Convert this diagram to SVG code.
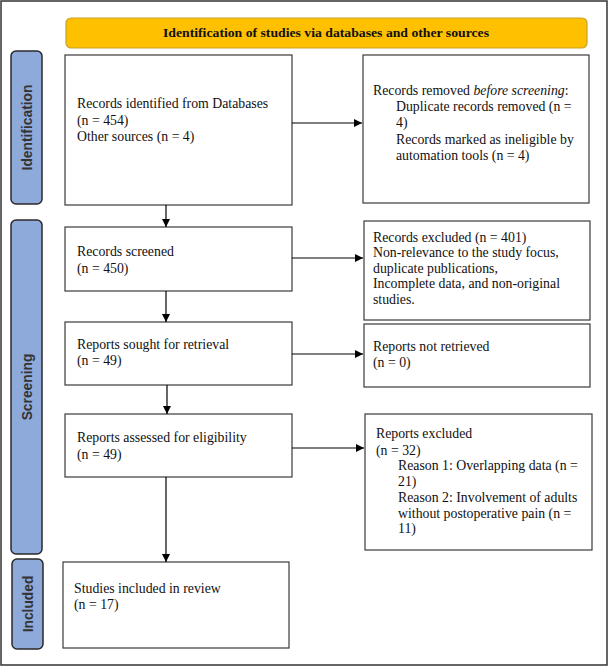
<svg xmlns="http://www.w3.org/2000/svg" width="611" height="666" viewBox="0 0 611 666">
<defs>
<marker id="ah" viewBox="0 0 10 10" refX="10" refY="5" markerWidth="8" markerHeight="8" markerUnits="userSpaceOnUse" orient="auto">
<path d="M0,0 L10,5 L0,10 z" fill="#000"/>
</marker>
<style>
.box{fill:#fff;stroke:#3a3a3a;stroke-width:1.2}
.t{font-family:"Liberation Serif","Times New Roman",serif;font-size:13.8px;fill:#111}
.side{fill:#8eaadb;stroke:#2a2a2a;stroke-width:1.5}
.st{font-family:"Liberation Sans",Arial,sans-serif;font-weight:bold;font-size:13.8px;fill:#333;text-anchor:middle}
.c{stroke:#000;stroke-width:1.2;fill:none;marker-end:url(#ah)}
</style>
</defs>
<rect x="0" y="0" width="611" height="666" fill="#fff"/>
<rect x="1" y="1" width="606" height="664" fill="none" stroke="#333" stroke-width="1.5"/>
<g id="banner">
<rect x="66" y="18" width="521" height="30" rx="5" fill="#ffc000" stroke="#c9a227" stroke-width="1.2"/>
<text x="326" y="36.5" text-anchor="middle" font-family="'Liberation Serif','Times New Roman',serif" font-weight="bold" font-size="12" fill="#111" textLength="326" lengthAdjust="spacingAndGlyphs">Identification of studies via databases and other sources</text>
</g>
<g id="label-identification">
<rect class="side" x="11" y="51" width="31" height="153" rx="5"/>
<text class="st" transform="translate(31.8,127.5) rotate(-90)">Identification</text>
</g>
<g id="label-screening">
<rect class="side" x="11" y="220" width="31" height="334" rx="5"/>
<text class="st" transform="translate(31.8,387) rotate(-90)">Screening</text>
</g>
<g id="label-included">
<rect class="side" x="12" y="559" width="31" height="90" rx="5"/>
<text class="st" transform="translate(32.8,604) rotate(-90)">Included</text>
</g>
<g id="n1">
<rect class="box" x="65" y="55" width="227" height="150"/>
<text class="t" x="77" y="108">Records identified from Databases</text>
<text class="t" x="77" y="124.5">(n = 454)</text>
<text class="t" x="77" y="141">Other sources (n = 4)</text>
</g>
<g id="n1r">
<rect class="box" x="363" y="55" width="226" height="148"/>
<text class="t" x="373" y="95">Records removed <tspan font-style="italic">before screening</tspan>:</text>
<text class="t" x="396" y="111">Duplicate records removed (n =</text>
<text class="t" x="396" y="127">4)</text>
<text class="t" x="396" y="143.5">Records marked as ineligible by</text>
<text class="t" x="396" y="160">automation tools (n = 4)</text>
</g>
<g id="n2">
<rect class="box" x="65" y="227" width="227" height="64"/>
<text class="t" x="77" y="256">Records screened</text>
<text class="t" x="77" y="273">(n = 450)</text>
</g>
<g id="n2r">
<rect class="box" x="364" y="221" width="226" height="99"/>
<text class="t" x="373" y="241.5">Records excluded (n = 401)</text>
<text class="t" x="373" y="257">Non-relevance to the study focus,</text>
<text class="t" x="373" y="272.5">duplicate publications,</text>
<text class="t" x="373" y="288">Incomplete data, and non-original</text>
<text class="t" x="373" y="303.5">studies.</text>
</g>
<g id="n3">
<rect class="box" x="65" y="322" width="227" height="63"/>
<text class="t" x="77" y="348.5">Reports sought for retrieval</text>
<text class="t" x="77" y="365">(n = 49)</text>
</g>
<g id="n3r">
<rect class="box" x="364" y="324" width="226" height="63"/>
<text class="t" x="373" y="350.5">Reports not retrieved</text>
<text class="t" x="373" y="367">(n = 0)</text>
</g>
<g id="n4">
<rect class="box" x="65" y="414" width="227" height="63"/>
<text class="t" x="77" y="442">Reports assessed for eligibility</text>
<text class="t" x="77" y="458.5">(n = 49)</text>
</g>
<g id="n4r">
<rect class="box" x="365" y="414" width="227" height="136"/>
<text class="t" x="376" y="438">Reports excluded</text>
<text class="t" x="376" y="454.5">(n = 32)</text>
<text class="t" x="398" y="470">Reason 1: Overlapping data (n =</text>
<text class="t" x="398" y="486">21)</text>
<text class="t" x="398" y="502">Reason 2: Involvement of adults</text>
<text class="t" x="398" y="517.5">without postoperative pain (n =</text>
<text class="t" x="398" y="533">11)</text>
</g>
<g id="n5">
<rect class="box" x="63" y="562" width="226" height="86"/>
<text class="t" x="74" y="593">Studies included in review</text>
<text class="t" x="74" y="609">(n = 17)</text>
</g>
<g id="connectors">
<line class="c" x1="292" y1="123" x2="362" y2="123"/>
<line class="c" x1="292" y1="258" x2="363" y2="258"/>
<line class="c" x1="292" y1="354" x2="363" y2="354"/>
<line class="c" x1="292" y1="448" x2="364" y2="448"/>
<line class="c" x1="166" y1="205" x2="166" y2="227"/>
<line class="c" x1="166" y1="291" x2="166" y2="322"/>
<line class="c" x1="167" y1="385" x2="167" y2="414"/>
<line class="c" x1="166" y1="477" x2="166" y2="562"/>
</g>
</svg>
